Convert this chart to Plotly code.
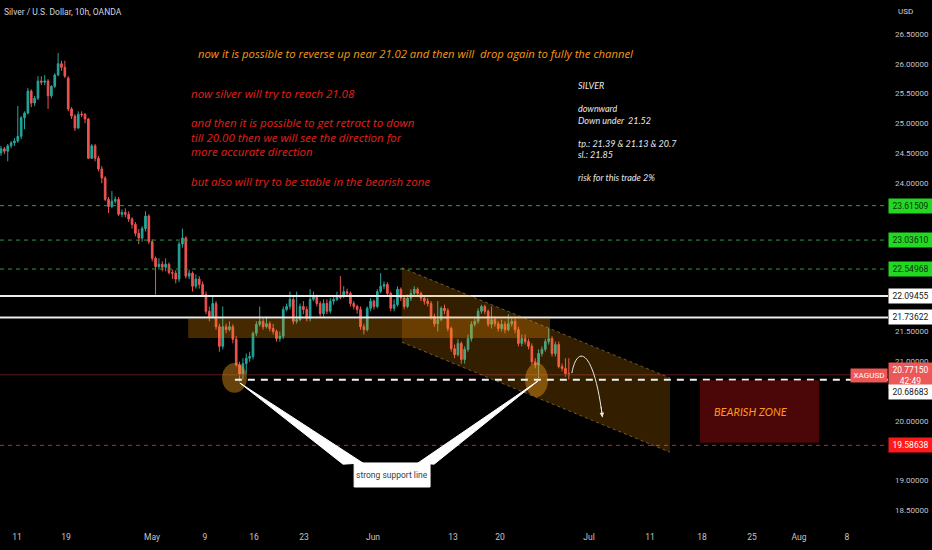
import plotly.graph_objects as go

# ---------------- data ----------------
opens = [24.50, 24.57, 24.53, 24.62, 24.67, 24.70, 24.78, 25.09, 25.17, 25.54,
         25.34, 25.42, 25.71, 25.69, 25.71, 25.46, 25.62, 25.81, 26.00, 25.94,
         25.76, 25.24, 25.12, 24.92, 25.15, 25.15, 25.07, 24.41, 24.62, 24.41,
         24.23, 24.08, 23.72, 23.60, 23.69, 23.72, 23.47, 23.50, 23.47, 23.39,
         23.30, 23.15, 23.07, 23.23, 23.44, 23.01, 22.73, 22.59, 22.63, 22.58,
         22.63, 22.49, 22.48, 22.38, 22.97, 23.07, 22.43, 22.48, 22.26, 22.38,
         22.29, 22.12, 21.84, 21.75, 21.97, 21.58, 21.25, 21.58, 21.53, 21.58,
         21.37, 20.94, 20.78, 20.96, 21.05, 21.08, 21.47, 21.62, 21.67, 21.58,
         21.63, 21.55, 21.50, 21.38, 21.42, 21.87, 21.92, 22.04, 21.67, 21.70,
         21.92, 21.87, 21.72, 22.04, 22.09, 21.97, 21.80, 21.97, 21.84, 22.01,
         22.04, 22.09, 22.09, 22.17, 22.14, 21.97, 21.92, 21.87, 21.58, 21.53,
         21.89, 22.01, 21.92, 22.17, 22.26, 22.29, 22.14, 21.89, 21.95, 22.21,
         22.06, 21.92, 22.06, 22.14, 22.21, 22.14, 22.06, 22.01, 21.97, 21.75,
         21.63, 21.70, 21.89, 21.85, 21.55, 21.21, 21.11, 21.30, 21.03, 21.20,
         21.38, 21.62, 21.67, 21.84, 21.92, 21.84, 21.62, 21.70, 21.63, 21.55,
         21.62, 21.53, 21.63, 21.67, 21.53, 21.30, 21.38, 21.33, 21.25, 20.99,
         20.94, 21.13, 21.20, 21.33, 21.38, 21.13, 21.28, 20.91, 20.88, 20.79]
highs = [24.62, 24.60, 24.65, 24.70, 24.75, 25.29, 25.12, 25.20, 25.59, 25.57,
         25.46, 25.79, 25.79, 25.81, 25.74, 25.64, 25.84, 26.18, 26.05, 26.05,
         25.79, 25.27, 25.15, 25.20, 25.20, 25.17, 25.09, 24.65, 24.65, 24.45,
         24.28, 24.11, 23.76, 23.86, 23.77, 23.76, 23.55, 23.57, 23.52, 23.42,
         23.34, 23.22, 23.27, 23.52, 23.47, 23.05, 22.76, 22.73, 22.68, 22.73,
         22.66, 22.54, 22.53, 23.01, 23.23, 23.10, 22.54, 22.51, 22.46, 22.43,
         22.34, 22.17, 21.92, 22.09, 22.01, 21.63, 21.92, 21.63, 21.67, 21.62,
         21.42, 20.99, 21.05, 21.13, 21.16, 21.50, 21.67, 21.92, 21.72, 21.75,
         21.67, 21.63, 21.53, 21.50, 21.92, 21.97, 22.17, 22.09, 22.17, 21.97,
         22.01, 21.92, 22.21, 22.17, 22.12, 22.01, 22.04, 22.04, 22.06, 22.09,
         22.17, 22.43, 22.26, 22.22, 22.17, 22.01, 21.95, 21.92, 21.63, 21.92,
         22.06, 22.04, 22.21, 22.48, 22.34, 22.33, 22.17, 22.04, 22.26, 22.24,
         22.09, 22.12, 22.21, 22.26, 22.24, 22.17, 22.09, 22.06, 22.01, 21.80,
         22.01, 21.92, 21.95, 21.89, 21.58, 21.28, 21.37, 21.33, 21.25, 21.45,
         21.67, 21.72, 21.89, 21.95, 21.95, 21.87, 21.92, 21.75, 21.67, 21.70,
         21.67, 21.79, 21.72, 21.72, 21.58, 21.45, 21.45, 21.38, 21.30, 21.05,
         21.20, 21.25, 21.38, 21.55, 21.42, 21.33, 21.33, 20.96, 21.05, 21.05]
lows = [24.45, 24.48, 24.36, 24.58, 24.62, 24.67, 24.73, 24.90, 25.15, 25.27,
        25.29, 25.39, 25.64, 25.64, 25.24, 25.42, 25.59, 25.79, 25.88, 25.76,
        25.20, 25.07, 24.87, 24.90, 25.10, 25.00, 24.40, 24.40, 24.36, 24.19,
        23.99, 23.69, 23.49, 23.57, 23.65, 23.44, 23.42, 23.42, 23.34, 23.23,
        23.10, 22.97, 23.01, 23.18, 22.97, 22.68, 22.12, 22.54, 22.51, 22.51,
        22.46, 22.38, 22.31, 22.33, 22.91, 22.39, 22.38, 22.17, 22.22, 22.22,
        22.09, 21.79, 21.67, 21.72, 21.53, 21.16, 21.20, 21.47, 21.50, 21.30,
        20.91, 20.66, 20.69, 20.79, 20.99, 21.03, 21.42, 21.58, 21.53, 21.55,
        21.50, 21.45, 21.33, 21.33, 21.37, 21.84, 21.87, 21.62, 21.63, 21.67,
        21.79, 21.67, 21.67, 22.01, 21.92, 21.75, 21.75, 21.79, 21.80, 21.95,
        22.01, 22.04, 22.06, 22.09, 21.92, 21.87, 21.80, 21.53, 21.45, 21.50,
        21.84, 21.87, 21.89, 22.14, 22.21, 22.09, 21.84, 21.84, 21.92, 22.01,
        21.87, 21.89, 22.01, 22.09, 22.09, 22.01, 21.95, 21.92, 21.70, 21.58,
        21.50, 21.67, 21.79, 21.50, 21.16, 21.05, 21.08, 20.96, 20.96, 21.16,
        21.33, 21.58, 21.63, 21.80, 21.79, 21.58, 21.55, 21.58, 21.50, 21.50,
        21.47, 21.50, 21.58, 21.47, 21.25, 21.25, 21.28, 21.20, 20.94, 20.88,
        20.71, 21.08, 21.16, 21.28, 21.08, 21.08, 20.88, 20.83, 20.74, 20.69]
closes = [24.57, 24.53, 24.62, 24.67, 24.70, 24.78, 25.09, 25.17, 25.54, 25.34,
          25.42, 25.71, 25.69, 25.71, 25.46, 25.62, 25.81, 26.00, 25.94, 25.79,
          25.24, 25.12, 24.92, 25.15, 25.14, 25.07, 24.41, 24.62, 24.41, 24.23,
          24.08, 23.72, 23.60, 23.69, 23.72, 23.47, 23.50, 23.47, 23.39, 23.30,
          23.15, 23.07, 23.23, 23.44, 23.01, 22.73, 22.59, 22.63, 22.58, 22.63,
          22.49, 22.48, 22.38, 22.97, 23.07, 22.43, 22.48, 22.26, 22.38, 22.29,
          22.12, 21.84, 21.75, 21.97, 21.58, 21.25, 21.58, 21.53, 21.58, 21.37,
          20.94, 20.78, 20.96, 21.05, 21.08, 21.47, 21.62, 21.67, 21.58, 21.63,
          21.55, 21.50, 21.38, 21.42, 21.87, 21.92, 22.04, 21.67, 21.70, 21.92,
          21.87, 21.72, 22.04, 22.09, 21.97, 21.80, 21.97, 21.84, 22.01, 22.04,
          22.09, 22.07, 22.17, 22.14, 21.97, 21.92, 21.87, 21.58, 21.53, 21.89,
          22.01, 21.92, 22.17, 22.26, 22.29, 22.14, 21.89, 21.95, 22.21, 22.06,
          21.92, 22.06, 22.14, 22.21, 22.14, 22.06, 22.01, 21.97, 21.75, 21.63,
          21.70, 21.89, 21.85, 21.55, 21.21, 21.11, 21.30, 21.03, 21.20, 21.38,
          21.62, 21.67, 21.84, 21.92, 21.84, 21.62, 21.70, 21.63, 21.55, 21.62,
          21.53, 21.63, 21.67, 21.53, 21.30, 21.38, 21.33, 21.25, 20.99, 20.94,
          21.13, 21.20, 21.33, 21.38, 21.13, 21.28, 20.91, 20.88, 20.79, 20.77]
bars = list(range(len(closes)))

date_tick_pos = [4.76, 19.35, 44.94, 60.71, 75.3, 90.18, 110.71, 134.52, 148.5,
                 175.0, 193.15, 208.63, 223.5, 237.5, 251.8]
date_tick_text = ["11", "19", "May", "9", "16", "23", "Jun", "13", "20",
                  "Jul", "11", "18", "25", "Aug", "8"]
price_ticks = [18.5, 19.0, 20.0, 21.0, 21.5, 24.0, 24.5, 25.0, 25.5, 26.0, 26.5]

green_levels = [23.61509, 23.03610, 22.54968]
white_levels = [22.09455, 21.73622]
red_level = 19.58638
last_price = 20.77150
support_level = 20.68683
countdown = "42:49"

# drawings (bar index, price)
support_zone = (55.7, 163.4, 21.39, 21.72)
channel_x = [119.3, 199.1, 199.1, 119.3]
channel_y = [22.57, 20.72, 19.47, 21.32]
circles = [(65.8, 73.2, 20.47, 20.97), (156.0, 162.8, 20.40, 20.97)]
bear_zone = (208.0, 243.5, 19.63, 20.68)
support_start = 69.6
arrow_pts = [(169.9, 20.80), (171.5, 21.30), (176.5, 21.20), (179.0, 20.06)]
wedges = [[(71.1, 20.634), (101.8, 19.27), (107.7, 19.29)],
          [(159.8, 20.668), (124.1, 19.29), (128.9, 19.27)]]
callout_box = (105.1, 127.7, 18.886, 19.29)
callout_text = "strong support line"

title_text = "Silver / U.S. Dollar, 10h, OANDA"
orange_note = "now it is possible to reverse up near 21.02 and then will \u00a0drop again to fully the channel"
orange_anchor = (58.0, 26.18)
red_note_lines = ["now silver will try to reach 21.08", "",
                  "and then it is possible to get retract to down",
                  "till 20.00 then we will see the direction for",
                  "more accurate direction", "",
                  "but also will try to be stable in the bearish zone"]
red_anchor = (56.25, 25.50)      # centre of the first line
white_note_lines = ["SILVER", "", "downward", "Down under \u00a021.52", "",
                    "tp.: 21.39 &amp; 21.13 &amp; 20.7", "sl.: 21.85", "",
                    "risk for this trade 2%"]
white_anchor = (171.4, 25.64)    # centre of the first line

X_MAX = 264.0
NOTE_FONT = "Open Sans, Lato, sans-serif"
AX_FONT = "Roboto, sans-serif"

fig = go.Figure()
fig.add_trace(go.Candlestick(
    x=bars, open=opens, high=highs, low=lows, close=closes,
    increasing=dict(line=dict(color="#26a69a", width=1), fillcolor="#26a69a"),
    decreasing=dict(line=dict(color="#ef5350", width=1), fillcolor="#ef5350"),
    hoverinfo="skip", whiskerwidth=0))

shapes = []
for lv in green_levels:
    shapes.append(dict(type="line", xref="paper", x0=0, x1=1, yref="y", y0=lv, y1=lv,
                       line=dict(color="#2f9a3c", width=1, dash="4px,4px")))
for lv in white_levels:
    shapes.append(dict(type="line", xref="paper", x0=0, x1=1, yref="y", y0=lv, y1=lv,
                       line=dict(color="#ececec", width=2)))
shapes.append(dict(type="line", xref="paper", x0=0, x1=1, yref="y", y0=red_level, y1=red_level,
                   line=dict(color="#d42424", width=1, dash="4px,4px")))
shapes.append(dict(type="line", xref="paper", x0=0, x1=1, yref="y", y0=last_price, y1=last_price,
                   line=dict(color="#5a1c20", width=1)))
x0, x1, y0, y1 = support_zone
shapes.append(dict(type="rect", xref="x", yref="y", x0=x0, x1=x1, y0=y0, y1=y1,
                   fillcolor="rgba(255,152,0,0.27)", line=dict(width=0)))
path = "M {},{} L {},{} L {},{} L {},{} Z".format(channel_x[0], channel_y[0], channel_x[1], channel_y[1],
                                              channel_x[2], channel_y[2], channel_x[3], channel_y[3])
shapes.append(dict(type="path", xref="x", yref="y", path=path,
                   fillcolor="rgba(255,152,0,0.20)", line=dict(width=0)))
shapes.append(dict(type="line", xref="x", yref="y", x0=channel_x[0], y0=channel_y[0],
                   x1=channel_x[1], y1=channel_y[1],
                   line=dict(color="rgba(220,180,110,0.45)", width=1, dash="3px,3px")))
shapes.append(dict(type="line", xref="x", yref="y", x0=channel_x[3], y0=channel_y[3],
                   x1=channel_x[2], y1=channel_y[2],
                   line=dict(color="rgba(220,180,110,0.45)", width=1, dash="3px,3px")))
for cx0, cx1, cy0, cy1 in circles:
    shapes.append(dict(type="circle", xref="x", yref="y", x0=cx0, x1=cx1, y0=cy0, y1=cy1,
                       fillcolor="rgba(255,165,30,0.40)", line=dict(width=0)))
shapes.append(dict(type="line", xref="x", yref="y", x0=support_start, x1=X_MAX,
                   y0=support_level, y1=support_level,
                   line=dict(color="#f2f2f2", width=2, dash="7px,6px")))
bx0, bx1, by0, by1 = bear_zone
shapes.append(dict(type="rect", xref="x", yref="y", x0=bx0, x1=bx1, y0=by0, y1=by1,
                   fillcolor="rgba(125,12,12,0.6)", line=dict(width=0)))
p = arrow_pts
shapes.append(dict(type="path", xref="x", yref="y",
                   path="M {},{} C {},{} {},{} {},{}".format(p[0][0], p[0][1], p[1][0], p[1][1],
                                                             p[2][0], p[2][1], p[3][0], p[3][1]),
                   line=dict(color="#e6e6e6", width=1)))
for w in wedges:
    shapes.append(dict(type="path", xref="x", yref="y",
                       path="M {},{} L {},{} L {},{} Z".format(w[0][0], w[0][1], w[1][0], w[1][1], w[2][0], w[2][1]),
                       fillcolor="#ffffff", line=dict(color="#ffffff", width=1)))
cb = callout_box
shapes.append(dict(type="rect", xref="x", yref="y", x0=cb[0], x1=cb[1], y0=cb[2], y1=cb[3],
                   fillcolor="#ffffff", line=dict(color="#ffffff", width=1)))

annotations = []


def axis_label(value, text, bg, fg, yshift=0):
    return dict(xref="paper", x=1, xanchor="left", xshift=0, yref="y", y=value, yanchor="middle",
                yshift=yshift, text=text, showarrow=False, bgcolor=bg, width=39, align="center",
                borderpad=2, font=dict(family=AX_FONT, size=8.5, color=fg))


for lv in green_levels:
    annotations.append(axis_label(lv, "{:.5f}".format(lv), "#22d822", "#0c300c"))
for lv in white_levels:
    annotations.append(axis_label(lv, "{:.5f}".format(lv), "#ffffff", "#131722"))
annotations.append(axis_label(red_level, "{:.5f}".format(red_level), "#ff1a1a", "#ffffff"))
annotations.append(axis_label(last_price, "{:.5f}<br>{}".format(last_price, countdown), "#ec5757", "#ffffff", yshift=-1))
annotations.append(axis_label(support_level, "{:.5f}".format(support_level), "#ffffff", "#131722", yshift=-12))
annotations.append(dict(xref="paper", x=1, xanchor="right", yref="y", y=last_price, yanchor="middle",
                        yshift=-1, text="XAGUSD", showarrow=False, bgcolor="#ec5757", width=32,
                        borderpad=2, font=dict(family=AX_FONT, size=8, color="#ffffff")))
annotations.append(dict(xref="paper", x=1, xanchor="left", xshift=8, yref="paper", y=1, yanchor="top",
                        yshift=-5, text="USD", showarrow=False,
                        font=dict(family=AX_FONT, size=8, color="#d1d4dc")))
annotations.append(dict(xref="paper", x=0, xanchor="left", xshift=2, yref="paper", y=1, yanchor="top",
                        yshift=-5, text=title_text, showarrow=False,
                        font=dict(family="Roboto, sans-serif", size=8.5, color="#d1d4dc")))
annotations.append(dict(xref="x", yref="y", x=orange_anchor[0], y=orange_anchor[1], xanchor="left",
                        yanchor="middle", text="<i>" + orange_note + "</i>", showarrow=False,
                        font=dict(family=NOTE_FONT, size=11.3, color="#f49a16")))
for k, line in enumerate(red_note_lines):
    if line:
        annotations.append(dict(xref="x", yref="y", x=red_anchor[0], y=red_anchor[1], xanchor="left",
                                yanchor="middle", yshift=-14.6 * k, text="<i>" + line + "</i>",
                                height=13, borderpad=0, showarrow=False,
                                font=dict(family=NOTE_FONT, size=11.5, color="#e3201c")))
for k, line in enumerate(white_note_lines):
    if line:
        annotations.append(dict(xref="x", yref="y", x=white_anchor[0], y=white_anchor[1], xanchor="left",
                                yanchor="middle", yshift=-11.5 * k, text="<i>" + line + "</i>",
                                height=10, borderpad=0, showarrow=False,
                                font=dict(family="Lato, sans-serif", size=9, color="#e8e8e8")))
annotations.append(dict(xref="x", yref="y", x=(bx0 + bx1) / 2 - 2.8, y=(by0 + by1) / 2, text="<i>BEARISH ZONE</i>",
                        showarrow=False, font=dict(family="Lato, sans-serif", size=11, color="#ff9a1a")))
annotations.append(dict(xref="x", yref="y", x=(cb[0] + cb[1]) / 2, y=(cb[2] + cb[3]) / 2, text=callout_text,
                        showarrow=False, font=dict(family="Roboto, sans-serif", size=8.5, color="#3a3e49")))
annotations.append(dict(xref="x", yref="y", x=p[3][0], y=p[3][1], ax=-1.5, ay=-12, axref="pixel", ayref="pixel",
                        showarrow=True, arrowhead=2, arrowsize=0.9, arrowwidth=1, arrowcolor="#e6e6e6", text=""))

fig.update_layout(
    width=932, height=550,
    margin=dict(l=0, r=44, t=0, b=28),
    paper_bgcolor="#000000", plot_bgcolor="#000000",
    showlegend=False, shapes=shapes, annotations=annotations,
    xaxis=dict(range=[-0.3, X_MAX], tickmode="array", tickvals=date_tick_pos, ticktext=date_tick_text,
               showgrid=False, zeroline=False, showline=False, ticks="", ticklabelstandoff=8,
               tickfont=dict(family=AX_FONT, size=8.5, color="#c4c4c4"),
               rangeslider=dict(visible=False), fixedrange=True),
    yaxis=dict(side="right", range=[18.298, 27.071], tickmode="array", tickvals=price_ticks,
               tickformat=".5f", showgrid=False, zeroline=False, showline=False, ticks="",
               ticklabelstandoff=6, tickfont=dict(family=AX_FONT, size=8, color="#c4c4c4"),
               fixedrange=True),
)

fig.write_html("out.html", config={"displayModeBar": False},
               post_script="document.body.style.margin='0';")
